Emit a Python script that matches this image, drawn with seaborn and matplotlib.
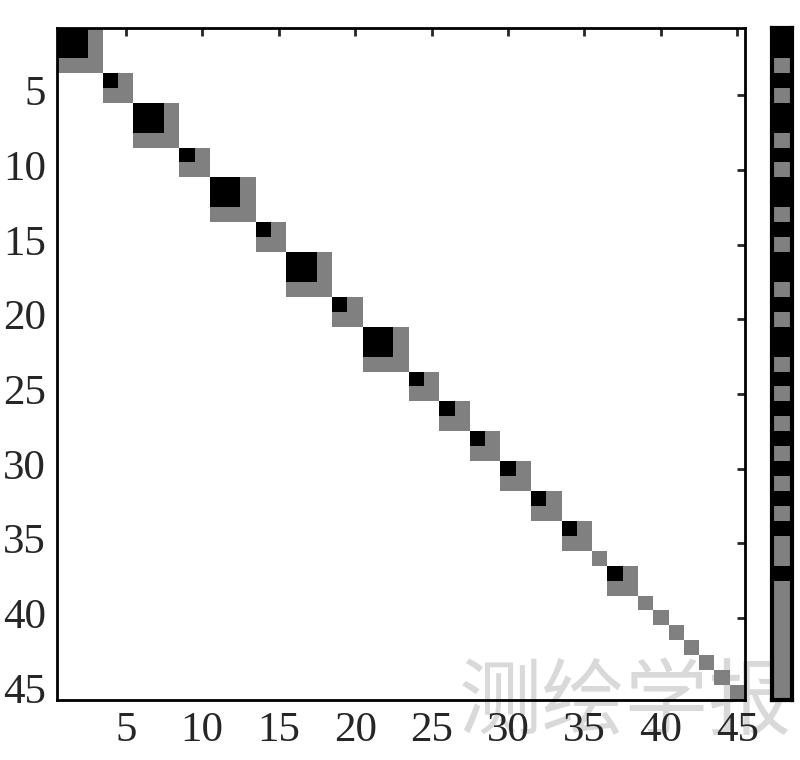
import numpy as np
import matplotlib
matplotlib.use('Agg')
import matplotlib.pyplot as plt
import seaborn as sns
from matplotlib.colors import ListedColormap

# diagonal blocks: size of each block and size of its black (strong) part
block_sizes = [3, 2, 3, 2, 3, 2, 3, 2, 3, 2, 2, 2, 2, 2, 2, 1, 2, 1, 1, 1, 1, 1, 1, 1]
black_sizes = [2, 1, 2, 1, 2, 1, 2, 1, 2, 1, 1, 1, 1, 1, 1, 0, 1, 0, 0, 0, 0, 0, 0, 0]
tick_values = [5, 10, 15, 20, 25, 30, 35, 40, 45]
watermark = '测绘学报'

n = sum(block_sizes)
mat = np.zeros((n, n))
start = 0
for size, nb in zip(block_sizes, black_sizes):
    mat[start:start + size, start:start + size] = 1
    mat[start:start + nb, start:start + nb] = 2
    start += size
strip = np.diag(mat).reshape(-1, 1)

sns.set_style('white')
plt.rcParams['font.family'] = ['Liberation Serif', 'DejaVu Serif']

cmap = ListedColormap(['#808080', '#000000'])

fig = plt.figure(figsize=(8, 7.6), dpi=100)
fig.patch.set_facecolor('white')

# watermark sits behind the transparent axes
fig.text(0.99, 0.018, watermark, ha='right', va='bottom', fontsize=60,
         color='#d9d9d9', weight='light',
         family=['Noto Sans CJK SC', 'DejaVu Sans'], zorder=-1)

ax = fig.add_axes([0.07125, 0.0789, 0.86, 0.8842])
ax.patch.set_alpha(0)
sns.heatmap(mat, mask=(mat == 0), cmap=cmap, vmin=0.5, vmax=2.5, cbar=False,
            square=False, ax=ax)
ticks = np.array(tick_values) - 0.5
ax.set_xticks(ticks)
ax.set_xticklabels(tick_values)
ax.set_yticks(ticks)
ax.set_yticklabels(tick_values, rotation=0)
ax.tick_params(axis='both', direction='in', length=6, width=2, labelsize=31,
               top=True, right=True, pad=8)
for s in ax.spines.values():
    s.set_visible(True)
    s.set_linewidth(2)
    s.set_color('black')

ax2 = fig.add_axes([0.965, 0.0789, 0.025, 0.8842])
ax2.patch.set_alpha(0)
sns.heatmap(strip, cmap=cmap, vmin=0.5, vmax=2.5, cbar=False, ax=ax2)
ax2.set_xticks([])
ax2.set_yticks([])
for s in ax2.spines.values():
    s.set_visible(True)
    s.set_linewidth(3)
    s.set_color('black')

fig.savefig('out.png', dpi=100)
